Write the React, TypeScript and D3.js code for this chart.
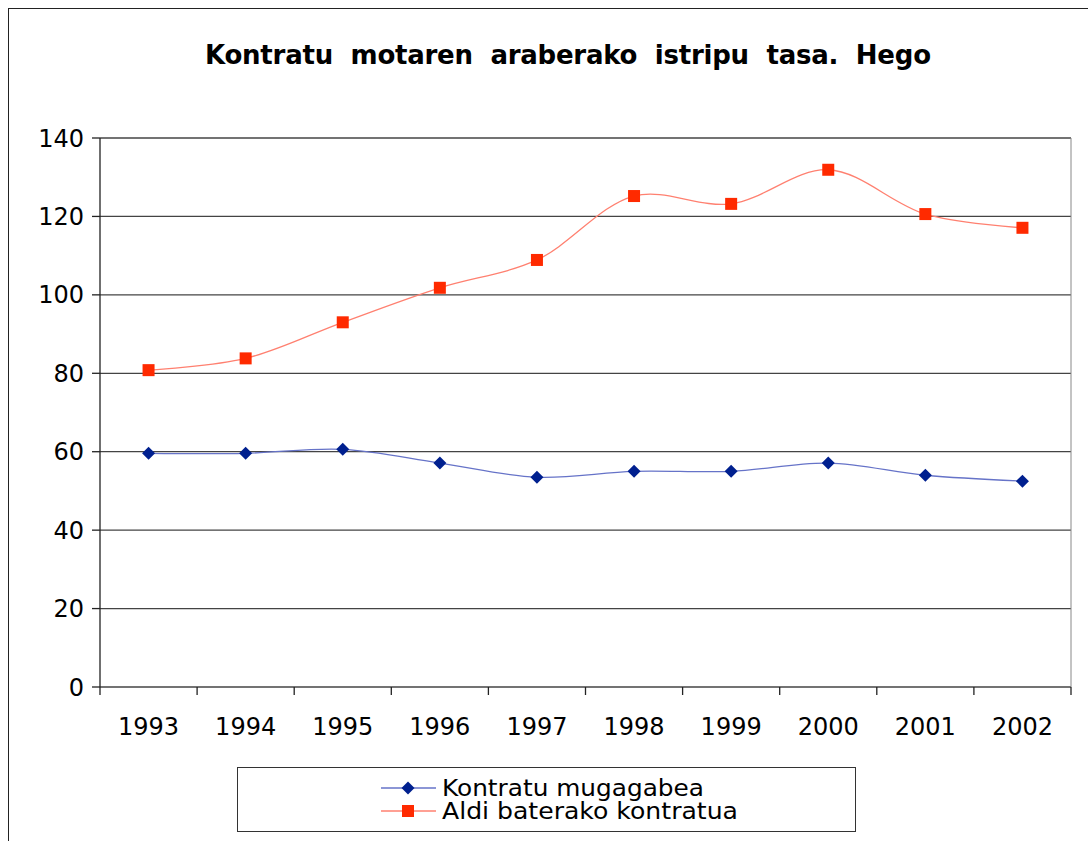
import React from "react";
import * as d3 from "d3";

const years = ["1993", "1994", "1995", "1996", "1997", "1998", "1999", "2000", "2001", "2002"];
const mugagabea = [59.6, 59.6, 60.6, 57.1, 53.5, 55.0, 55.0, 57.1, 54.0, 52.5];
const aldiBaterako = [80.8, 83.8, 93.0, 101.8, 108.9, 125.2, 123.2, 131.9, 120.6, 117.1];
const yTicks = [0, 20, 40, 60, 80, 100, 120, 140];
const seriesNames = ["Kontratu mugagabea", "Aldi baterako kontratua"];
const title = "Kontratu  motaren  araberako  istripu  tasa.  Hego";

const W = 1088;
const H = 841;
const plot = { left: 100, right: 1071, top: 138, bottom: 687 };
const FONT = "'DejaVu Sans', Verdana, sans-serif";

export default function App() {
  const x = d3.scaleBand<string>().domain(years).range([plot.left, plot.right]).padding(0);
  const y = d3.scaleLinear().domain([0, 140]).range([plot.bottom, plot.top]);
  const cx = (d: string) => (x(d) as number) + x.bandwidth() / 2;

  const line = d3
    .line<number>()
    .x((_, i) => cx(years[i]))
    .y((v) => y(v))
    .curve(d3.curveCatmullRom.alpha(0.5));

  const blueLine = "#6673c8";
  const blueMark = "#00208f";
  const redLine = "#ff8070";
  const redMark = "#ff2a00";

  const diamond = (px: number, py: number, r: number) =>
    `M${px},${py - r}L${px + r},${py}L${px},${py + r}L${px - r},${py}Z`;

  const boundaries = years.map((d) => x(d) as number).concat([plot.right]);

  return (
    <svg width={W} height={H} style={{ position: "absolute", left: 0, top: 0, background: "#fff" }}>
      <rect x={8.5} y={8.5} width={1200} height={1000} fill="#fff" stroke="#222" strokeWidth={1} />
      <text
        x={568}
        y={64}
        textAnchor="middle"
        fontFamily={FONT}
        fontWeight="bold"
        fontSize={26}
        textLength={726}
        lengthAdjust="spacing"
        style={{ whiteSpace: "pre" }}
      >
        {title}
      </text>

      {/* gridlines */}
      {yTicks.map((t) => (
        <line key={t} x1={plot.left} x2={plot.right} y1={y(t)} y2={y(t)} stroke="#444" strokeWidth={1.3} />
      ))}
      {/* right border of plot */}
      <line x1={plot.right} x2={plot.right} y1={plot.top} y2={plot.bottom} stroke="#888" strokeWidth={1} />
      {/* y axis */}
      <line x1={plot.left} x2={plot.left} y1={plot.top} y2={plot.bottom} stroke="#222" strokeWidth={1.3} />
      {yTicks.map((t) => (
        <g key={"yt" + t}>
          <line x1={plot.left - 8} x2={plot.left} y1={y(t)} y2={y(t)} stroke="#222" strokeWidth={1.3} />
          <text x={84} y={y(t)} dy="0.36em" textAnchor="end" fontFamily={FONT} fontSize={24} fill="#000">
            {t}
          </text>
        </g>
      ))}
      {/* x axis ticks */}
      {boundaries.map((b, i) => (
        <line key={"xt" + i} x1={b} x2={b} y1={plot.bottom} y2={plot.bottom + 8} stroke="#222" strokeWidth={1.3} />
      ))}
      {years.map((d) => (
        <text key={d} x={cx(d)} y={735} textAnchor="middle" fontFamily={FONT} fontSize={24} fill="#000">
          {d}
        </text>
      ))}

      {/* series */}
      <path d={line(mugagabea) || ""} fill="none" stroke={blueLine} strokeWidth={1.3} />
      <path d={line(aldiBaterako) || ""} fill="none" stroke={redLine} strokeWidth={1.3} />
      {mugagabea.map((v, i) => (
        <path key={"b" + i} d={diamond(cx(years[i]), y(v), 6.5)} fill={blueMark} />
      ))}
      {aldiBaterako.map((v, i) => (
        <rect key={"r" + i} x={cx(years[i]) - 6} y={y(v) - 6} width={12} height={12} fill={redMark} />
      ))}

      {/* legend */}
      <rect x={237.5} y={767.5} width={618} height={64} fill="#fff" stroke="#333" strokeWidth={1} />
      <line x1={381} x2={436} y1={788} y2={788} stroke={blueLine} strokeWidth={1.5} />
      <path d={diamond(408, 788, 6.5)} fill={blueMark} />
      <text x={442} y={788} dy="0.36em" fontFamily={FONT} fontSize={23} textLength={262} lengthAdjust="spacingAndGlyphs" fill="#000">
        {seriesNames[0]}
      </text>
      <line x1={381} x2={436} y1={811} y2={811} stroke={redLine} strokeWidth={1.5} />
      <rect x={402} y={805} width={12} height={12} fill={redMark} />
      <text x={442} y={811} dy="0.36em" fontFamily={FONT} fontSize={23} textLength={296} lengthAdjust="spacingAndGlyphs" fill="#000">
        {seriesNames[1]}
      </text>
    </svg>
  );
}
